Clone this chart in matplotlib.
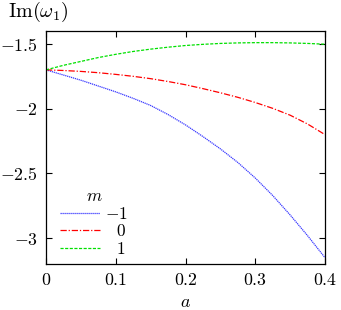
import matplotlib
matplotlib.use("Agg")
import matplotlib.pyplot as plt

plt.rcParams['font.family'] = 'serif'
plt.rcParams['font.serif'] = ['cmr10', 'DejaVu Serif']
plt.rcParams['mathtext.fontset'] = 'cm'
plt.rcParams['axes.unicode_minus'] = False
plt.rcParams['axes.formatter.use_mathtext'] = True

# data
a = [0.0, 0.025, 0.05, 0.075, 0.1, 0.125, 0.15, 0.175, 0.2,
     0.225, 0.25, 0.275, 0.3, 0.325, 0.35, 0.375, 0.4]
im_m_neg1 = [-1.70, -1.74, -1.78, -1.825, -1.87, -1.92, -1.975, -2.045, -2.125,
             -2.215, -2.31, -2.415, -2.535, -2.67, -2.82, -2.98, -3.15]
im_m_0 = [-1.70, -1.705, -1.712, -1.722, -1.735, -1.75, -1.768, -1.79, -1.815,
          -1.845, -1.877, -1.912, -1.952, -1.997, -2.05, -2.118, -2.20]
im_m_1 = [-1.70, -1.665, -1.635, -1.605, -1.58, -1.558, -1.54, -1.525, -1.512,
          -1.503, -1.496, -1.492, -1.49, -1.49, -1.492, -1.496, -1.502]

x_ticks = [0, 0.1, 0.2, 0.3, 0.4]
x_labels = ['$0$', '$0.1$', '$0.2$', '$0.3$', '$0.4$']
y_ticks = [-3, -2.5, -2, -1.5]
y_labels = ['$-3$', '$-2.5$', '$-2$', '$-1.5$']

fig = plt.figure(figsize=(3.41, 3.10), dpi=100)
ax = fig.add_axes([0.135, 0.148, 0.818, 0.752])

ax.plot(a, im_m_neg1, color='#3838ff', lw=0.9, ls=(0, (1, 0.6)), label=r'$-1$')
ax.plot(a, im_m_0, color='#ff0000', lw=0.9, ls=(0, (5, 1.5, 1, 1.5)), label=r'$\enspace\;0$')
ax.plot(a, im_m_1, color='#00e000', lw=0.9, ls=(0, (2.5, 1.2)), label=r'$\enspace\;1$')

ax.set_xlim(0, 0.4)
ax.set_ylim(-3.2, -1.4)
ax.set_xticks(x_ticks)
ax.set_xticklabels(x_labels, fontsize=12.8)
ax.set_yticks(y_ticks)
ax.set_yticklabels(y_labels, fontsize=12.8)
ax.tick_params(direction='in', length=4, width=0.8, top=True, right=True, pad=6)
for s in ax.spines.values():
    s.set_linewidth(0.9)

ax.set_xlabel('$a$', fontsize=13, labelpad=4.5)
fig.text(0.022, 0.96, r'$\mathrm{Im}(\omega_1)$', fontsize=14.5, ha='left', va='center')

leg = ax.legend(title='$m$', loc='lower left', bbox_to_anchor=(0.05, 0.03),
                frameon=False, fontsize=12.5, title_fontsize=12.5,
                handlelength=2.3, handletextpad=0.3, labelspacing=0.1,
                borderaxespad=0.0, borderpad=0.0)

fig.savefig('out.png', dpi=100)
